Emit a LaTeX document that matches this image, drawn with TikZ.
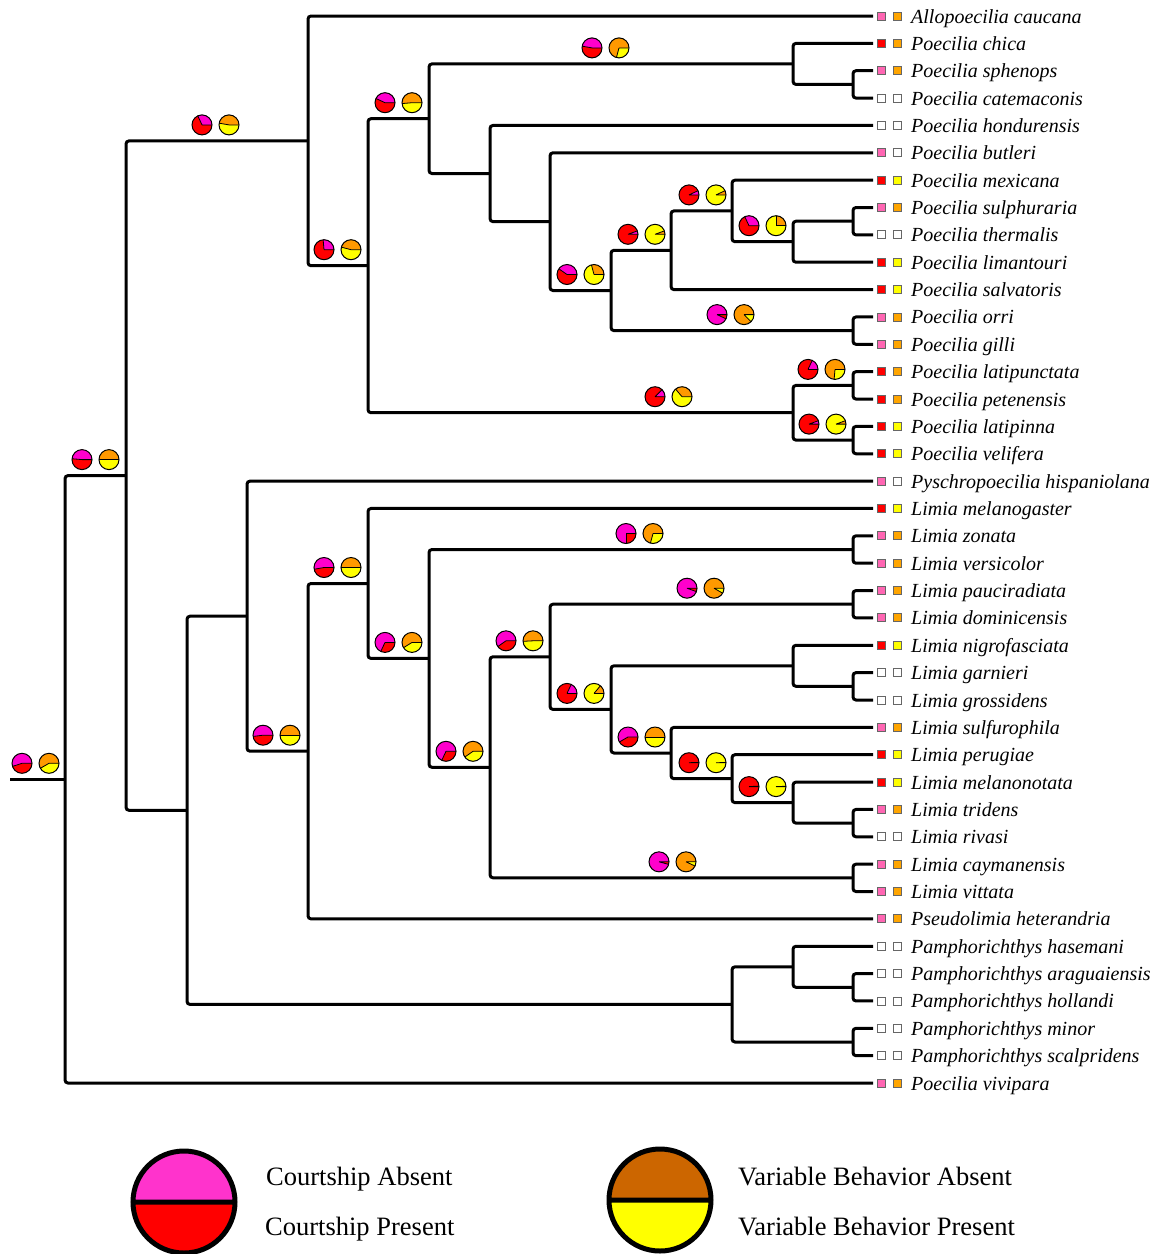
\documentclass[tikz,border=0pt]{standalone}
\usepackage{fontspec}
\setmainfont{Liberation Serif}
\usetikzlibrary{calc}

\definecolor{pk}{HTML}{FF00CC}
\definecolor{rd}{HTML}{FF0000}
\definecolor{orng}{HTML}{FF9900}
\definecolor{yl}{HTML}{FFFF00}
\definecolor{sqpk}{HTML}{FF66B3}
\definecolor{sqor}{HTML}{FFA500}
\definecolor{lgpk}{HTML}{FF33CC}
\definecolor{lgor}{HTML}{CC6600}

\tikzset{
  branch/.style={line width=3pt, rounded corners=3pt},
  tipbox/.style={draw=black!60, line width=0.9pt, minimum size=8pt, inner sep=0pt},
  tiplabel/.style={anchor=base west, inner sep=0pt, font=\fontsize{20}{20}\selectfont\itshape},
  legtext/.style={anchor=base west, inner sep=0pt, font=\fontsize{26.5}{26.5}\selectfont},
}

% one pie: x, y, angle of first state, first colour, second colour
\newcommand{\onepie}[5]{%
  \fill[#5] (#1,#2) circle (10);
  \fill[#4] (#1,#2) -- ++(0:10) arc (0:-#3:10) -- cycle;
  \draw[line width=0.8pt] (#1,#2) -- ++(0:10) (#1,#2) -- ++(-#3:10);
  \draw[line width=1pt] (#1,#2) circle (10);
}
% courtship pie and variable behaviour pie side by side
\newcommand{\pies}[4]{%
  \onepie{#1}{#2}{#3}{pk}{rd}
  \onepie{#1+27}{#2}{#4}{orng}{yl}
}

\begin{document}
\begin{tikzpicture}[x=1pt,y=-1pt]
\useasboundingbox (0,0) rectangle (1161,1254);

% tips
\foreach \nm/\ca/\cb [count=\i] in {
  Allopoecilia caucana/sqpk/sqor, Poecilia chica/rd/sqor,
  Poecilia sphenops/sqpk/sqor, Poecilia catemaconis/white/white,
  Poecilia hondurensis/white/white, Poecilia butleri/sqpk/white,
  Poecilia mexicana/rd/yl, Poecilia sulphuraria/sqpk/sqor,
  Poecilia thermalis/white/white, Poecilia limantouri/rd/yl,
  Poecilia salvatoris/rd/yl, Poecilia orri/sqpk/sqor,
  Poecilia gilli/sqpk/sqor, Poecilia latipunctata/rd/sqor,
  Poecilia petenensis/rd/sqor, Poecilia latipinna/rd/yl,
  Poecilia velifera/rd/yl, Pyschropoecilia hispaniolana/sqpk/white,
  Limia melanogaster/rd/yl, Limia zonata/sqpk/sqor,
  Limia versicolor/sqpk/sqor, Limia pauciradiata/sqpk/sqor,
  Limia dominicensis/sqpk/sqor, Limia nigrofasciata/rd/yl,
  Limia garnieri/white/white, Limia grossidens/white/white,
  Limia sulfurophila/sqpk/sqor, Limia perugiae/rd/yl,
  Limia melanonotata/rd/yl, Limia tridens/sqpk/sqor,
  Limia rivasi/white/white, Limia caymanensis/sqpk/sqor,
  Limia vittata/sqpk/sqor, Pseudolimia heterandria/sqpk/sqor,
  Pamphorichthys hasemani/white/white, Pamphorichthys araguaiensis/white/white,
  Pamphorichthys hollandi/white/white, Pamphorichthys minor/white/white,
  Pamphorichthys scalpridens/white/white, Poecilia vivipara/sqpk/sqor}
{
  \coordinate (t\i) at (873,{16+27.36*(\i-1)});
  \node[tipbox, fill=\ca] (sa\i) at (881,{16+27.36*(\i-1)}) {};
  \node[tipbox, fill=\cb] (sb\i) at (897,{16+27.36*(\i-1)}) {};
  \node[tiplabel] (l\i) at (911,{16+27.36*(\i-1)+7}) {\nm};
}

% internal nodes
\coordinate (c3-4) at (853,84.4);
\coordinate (c2-4) at (793,63.9);
\coordinate (c8-9) at (853,221.2);
\coordinate (c8-10) at (793,241.7);
\coordinate (c7-10) at (732,210.9);
\coordinate (c7-11) at (671,250.3);
\coordinate (c12-13) at (853,330.6);
\coordinate (c7-13) at (611,290.5);
\coordinate (c6-13) at (550,221.6);
\coordinate (c5-13) at (490,173.5);
\coordinate (c2-13) at (429,118.7);
\coordinate (c14-15) at (853,385.4);
\coordinate (c16-17) at (853,440.1);
\coordinate (c14-17) at (793,412.7);
\coordinate (c2-17) at (368,265.7);
\coordinate (c1-17) at (308,140.9);
\coordinate (c20-21) at (853,549.5);
\coordinate (c22-23) at (853,604.2);
\coordinate (c25-26) at (853,686.3);
\coordinate (c24-26) at (793,665.8);
\coordinate (c30-31) at (853,823.1);
\coordinate (c29-31) at (793,802.6);
\coordinate (c28-31) at (732,778.7);
\coordinate (c27-31) at (671,753.0);
\coordinate (c24-31) at (611,709.4);
\coordinate (c22-31) at (550,656.8);
\coordinate (c32-33) at (853,877.8);
\coordinate (c22-33) at (490,767.3);
\coordinate (c20-33) at (429,658.4);
\coordinate (c19-33) at (368,583.5);
\coordinate (c19-34) at (308,751.2);
\coordinate (c18-34) at (247,616.2);
\coordinate (c36-37) at (853,987.3);
\coordinate (c35-37) at (793,966.8);
\coordinate (c38-39) at (853,1042.0);
\coordinate (c35-39) at (732,1004.4);
\coordinate (c18-39) at (187,810.3);
\coordinate (c1-39) at (126,475.6);
\coordinate (root) at (65,779.3);
\coordinate (stem) at (10,779.3);

% branches
\draw[branch] (stem) -- (root);
\foreach \p/\a/\b in {root/c1-39/t40, c1-39/c1-17/c18-39, c1-17/t1/c2-17,
  c2-17/c2-13/c14-17, c2-13/c2-4/c5-13, c2-4/t2/c3-4, c3-4/t3/t4,
  c5-13/t5/c6-13, c6-13/t6/c7-13, c7-13/c7-11/c12-13, c7-11/c7-10/t11,
  c7-10/t7/c8-10, c8-10/c8-9/t10, c8-9/t8/t9, c12-13/t12/t13,
  c14-17/c14-15/c16-17, c14-15/t14/t15, c16-17/t16/t17,
  c18-39/c18-34/c35-39, c18-34/t18/c19-34, c19-34/c19-33/t34,
  c19-33/t19/c20-33, c20-33/c20-21/c22-33, c20-21/t20/t21,
  c22-33/c22-31/c32-33, c22-31/c22-23/c24-31, c22-23/t22/t23,
  c24-31/c24-26/c27-31, c24-26/t24/c25-26, c25-26/t25/t26,
  c27-31/t27/c28-31, c28-31/t28/c29-31, c29-31/t29/c30-31,
  c30-31/t30/t31, c32-33/t32/t33, c35-39/c35-37/c38-39,
  c35-37/t35/c36-37, c36-37/t36/t37, c38-39/t38/t39}
{
  \draw[branch] (\p) |- (\a) (\p) |- (\b);
}

% ancestral states
\foreach \px/\py/\ca/\cb in {22/763.3/198/210, 82/459.6/175/180,
  202/124.9/115/170, 324/249.7/95/165, 385/102.7/155/185, 592/47.9/170/255,
  567/274.5/145/105, 628/234.3/20/20, 689/194.9/25/25, 749/225.7/115/90,
  717/314.6/335/315, 655/396.7/45/130, 808/369.4/65/265, 809/424.1/20/20,
  263/735.2/187/180, 324/567.5/190/180, 385/642.4/245/212, 626/533.5/270/255,
  446/751.3/245/215, 506/640.8/215/183, 687/588.2/340/330, 567/693.4/65/50,
  628/737.0/210/180, 689/762.7/2/1, 749/786.6/3/2, 659/861.8/345/335}
{
  \pies{\px}{\py}{\ca}{\cb}
}

% legend
\coordinate (lgc) at (184,1202);
\coordinate (lgv) at (660,1200);
\fill[rd] (lgc) circle (51);
\fill[lgpk] (lgc) ++(51,0) arc (0:-180:51) -- cycle;
\fill[yl] (lgv) circle (51);
\fill[lgor] (lgv) ++(51,0) arc (0:-180:51) -- cycle;
\draw[line width=5pt] (lgc) circle (51) ($(lgc)+(-51,0)$) -- ($(lgc)+(51,0)$);
\draw[line width=5pt] (lgv) circle (51) ($(lgv)+(-51,0)$) -- ($(lgv)+(51,0)$);
\node[legtext] (ca) at (266,1185) {Courtship Absent};
\node[legtext] (cp) at (265,1235) {Courtship Present};
\node[legtext] (va) at (738,1185) {Variable Behavior Absent};
\node[legtext] (vp) at (738,1235) {Variable Behavior Present};

\end{tikzpicture}
\end{document}
